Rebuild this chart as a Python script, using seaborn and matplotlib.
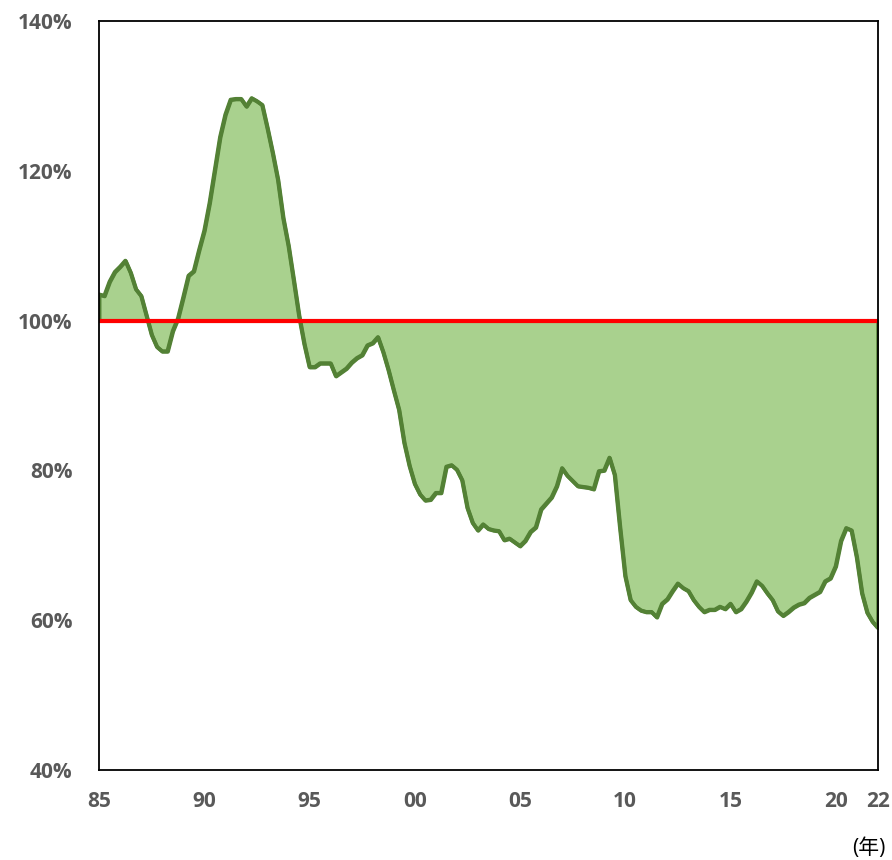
import numpy as np
import pandas as pd
import matplotlib
matplotlib.use("Agg")
import matplotlib.pyplot as plt
import seaborn as sns

# Quarterly ratio (%), 1985Q1 .. 2022Q1
ratio = [
    103.5, 103.3, 105.2, 106.5, 107.2, 108.0, 106.4, 104.2, 103.3, 100.7,
    98.1, 96.5, 95.9, 95.9, 98.6, 100.3, 103.1, 106.0, 106.6, 109.4,
    112.0, 115.7, 120.1, 124.5, 127.5, 129.5, 129.6, 129.6, 128.6, 129.7,
    129.3, 128.8, 125.7, 122.4, 118.8, 113.7, 110.0, 105.4, 100.7, 96.9,
    93.8, 93.8, 94.3, 94.3, 94.3, 92.6, 93.1, 93.6, 94.4, 95.0,
    95.4, 96.7, 97.0, 97.8, 95.8, 93.4, 90.7, 88.1, 83.7, 80.6,
    78.2, 76.8, 76.0, 76.1, 77.0, 77.0, 80.5, 80.7, 80.1, 78.7,
    75.0, 73.0, 72.0, 72.8, 72.2, 72.0, 71.9, 70.7, 70.9, 70.4,
    69.9, 70.6, 71.8, 72.4, 74.8, 75.6, 76.4, 77.9, 80.3, 79.3,
    78.6, 77.9, 77.8, 77.7, 77.5, 79.9, 80.0, 81.7, 79.4, 72.4,
    65.9, 62.7, 61.8, 61.3, 61.1, 61.1, 60.4, 62.2, 62.8, 63.9,
    64.9, 64.3, 63.9, 62.7, 61.8, 61.1, 61.4, 61.4, 61.8, 61.5,
    62.2, 61.1, 61.5, 62.5, 63.7, 65.2, 64.6, 63.6, 62.7, 61.2,
    60.6, 61.1, 61.7, 62.1, 62.3, 63.0, 63.4, 63.8, 65.2, 65.6,
    67.2, 70.6, 72.3, 72.0, 68.4, 63.6, 61.0, 59.8, 59.0,
]
start_year = 1985
baseline = 100.0

x_ticks = [1985, 1990, 1995, 2000, 2005, 2010, 2015, 2020, 2022]
x_labels = ["85", "90", "95", "00", "05", "10", "15", "20", "22"]
y_ticks = [40, 60, 80, 100, 120, 140]
y_labels = ["40%", "60%", "80%", "100%", "120%", "140%"]

df = pd.DataFrame({"year": start_year + np.arange(len(ratio)) / 4.0,
                   "ratio": ratio})

sns.set_theme(style="white")
plt.rcParams["font.family"] = ["Open Sans", "Noto Sans CJK JP", "DejaVu Sans"]

line_green = "#538135"
fill_green = "#A9D18E"
label_grey = "#595959"

fig = plt.figure(figsize=(8.92, 8.60), dpi=100)
ax = fig.add_axes([0.111, 0.1047, 0.873, 0.8709])

ax.fill_between(df["year"], df["ratio"], baseline, facecolor=fill_green,
                edgecolor=line_green, linewidth=2.8, zorder=1)
sns.lineplot(data=df, x="year", y="ratio", ax=ax, color=line_green,
             linewidth=2.8, zorder=2)
ax.axhline(baseline, color="#FF0000", linewidth=3.0, zorder=3)

ax.set_xlim(df["year"].iloc[0], df["year"].iloc[-1])
ax.set_ylim(y_ticks[0], y_ticks[-1])
ax.set_xticks(x_ticks)
ax.set_xticklabels(x_labels)
ax.set_yticks(y_ticks)
ax.set_yticklabels(y_labels)
ax.set_xlabel("")
ax.set_ylabel("")
ax.tick_params(axis="both", length=0, labelsize=15, colors=label_grey)
ax.tick_params(axis="x", pad=15)
ax.tick_params(axis="y", pad=19)
for lbl in ax.get_xticklabels() + ax.get_yticklabels():
    lbl.set_fontweight("bold")
for sp in ax.spines.values():
    sp.set_visible(True)
    sp.set_color("black")
    sp.set_linewidth(1.3)
    sp.set_zorder(4)

fig.text(0.974, 0.001, "(年)", ha="center", va="bottom", fontsize=15,
         color="black", family=["Open Sans", "Noto Sans CJK JP"])

fig.savefig("out.png", dpi=100, facecolor="white")
